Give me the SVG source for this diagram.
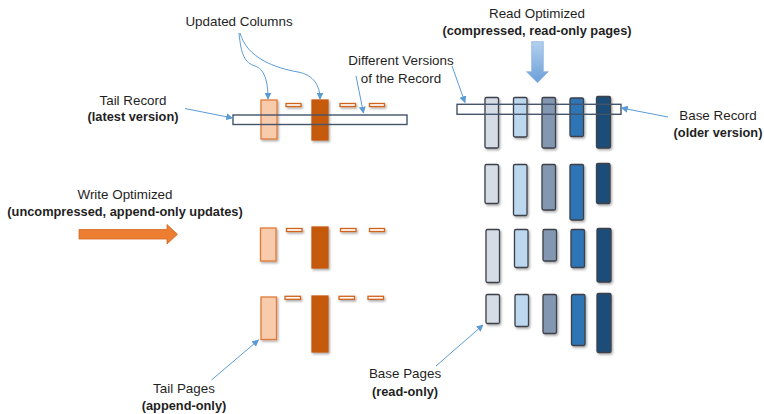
<svg xmlns="http://www.w3.org/2000/svg" width="764" height="414" viewBox="0 0 764 414">
<defs>
<style>
text{font-family:"Liberation Sans",Arial,sans-serif;fill:#1f1f1f}
.r{font-size:13.4px}
.b{font-size:12.8px;font-weight:bold}
.lt{fill:#F8CBAD;stroke:#E07A38;stroke-width:1.3}
.dk{fill:#C55A11;stroke:#C55A11;stroke-width:1.3}
.ds{fill:#fff;stroke:#D2641E;stroke-width:1.3}
.bar{stroke:#3B3F48;stroke-width:1.3}
.c1{fill:#D6DCE5}.c2{fill:#BDD7EE}.c3{fill:#8497B0}.c4{fill:#2E75B6}.c5{fill:#1F4E79}
.rec{fill:none;stroke:#44546A;stroke-width:1.4}
.con{fill:none;stroke:#5B9BD5;stroke-width:1}
</style>
<filter id="sh" x="-30%" y="-30%" width="160%" height="160%">
<feDropShadow dx="1.2" dy="1.5" stdDeviation="0.9" flood-color="#000" flood-opacity="0.35"/>
</filter>
<marker id="ah" viewBox="0 0 10 10" refX="9" refY="5" markerWidth="7" markerHeight="7" markerUnits="userSpaceOnUse" orient="auto">
<path d="M0,0 L10,5 L0,10 z" fill="#5B9BD5"/>
</marker>
<linearGradient id="bg" x1="0" y1="0" x2="0" y2="1">
<stop offset="0" stop-color="#B4D0EE"/>
<stop offset="1" stop-color="#6A9FD8"/>
</linearGradient>
</defs>

<g id="labels">
<text class="r" x="239" y="26" text-anchor="middle">Updated Columns</text>
<text class="r" x="133" y="105" text-anchor="middle">Tail Record</text>
<text class="b" x="133" y="121" text-anchor="middle">(latest version)</text>
<text class="r" x="401" y="65" text-anchor="middle">Different Versions</text>
<text class="r" x="401" y="83" text-anchor="middle">of the Record</text>
<text class="r" x="537" y="18" text-anchor="middle">Read Optimized</text>
<text class="b" x="537" y="35" text-anchor="middle">(compressed, read-only pages)</text>
<text class="r" x="718" y="120" text-anchor="middle">Base Record</text>
<text class="b" x="718" y="137" text-anchor="middle">(older version)</text>
<text class="r" x="125" y="199" text-anchor="middle">Write Optimized</text>
<text class="b" x="125" y="216" text-anchor="middle">(uncompressed, append-only updates)</text>
<text class="r" x="184" y="393" text-anchor="middle">Tail Pages</text>
<text class="b" x="184" y="410" text-anchor="middle">(append-only)</text>
<text class="r" x="405" y="378" text-anchor="middle">Base Pages</text>
<text class="b" x="405" y="396" text-anchor="middle">(read-only)</text>
</g>

<g id="write-arrow">
<polygon points="79,229.5 167,229.5 167,224.5 177.5,234.3 167,244 167,239 79,239" fill="#ED7D31" stroke="#D06A25" stroke-width="0.8"/>
</g>
<g id="read-arrow">
<polygon points="531.7,41.7 543.3,41.7 543.3,71.7 548.3,71.7 537.5,82.7 526.5,71.7 531.7,71.7" fill="url(#bg)" stroke="#8FB4E0" stroke-width="0.8"/>
</g>

<g id="tail-pages" filter="url(#sh)">
<g id="tail-row1">
<rect class="lt" x="261" y="100" width="16" height="39"/>
<rect class="ds" x="286" y="103.5" width="15" height="3"/>
<rect class="dk" x="312" y="100" width="16" height="40"/>
<rect class="ds" x="340" y="103.5" width="15.5" height="3"/>
<rect class="ds" x="369.5" y="103.5" width="15" height="3"/>
</g>
<g id="tail-row2">
<rect class="lt" x="260.5" y="228" width="15.5" height="33"/>
<rect class="ds" x="286.5" y="228.5" width="15.5" height="3"/>
<rect class="dk" x="312" y="227" width="16" height="41"/>
<rect class="ds" x="340.5" y="228.5" width="15.5" height="3"/>
<rect class="ds" x="369.5" y="228.5" width="15" height="3"/>
</g>
<g id="tail-row3">
<rect class="lt" x="261" y="297" width="15.5" height="42.5"/>
<rect class="ds" x="285" y="296.3" width="15.5" height="3"/>
<rect class="dk" x="312" y="296" width="16" height="56"/>
<rect class="ds" x="339" y="296.3" width="15.5" height="3"/>
<rect class="ds" x="368" y="296.3" width="15.5" height="3"/>
</g>
</g>

<g id="base-pages" filter="url(#sh)">
<g id="base-row1">
<rect class="bar c1" x="485" y="97.5" width="13.5" height="50.5" rx="1.5"/>
<rect class="bar c2" x="513.5" y="97.5" width="13.5" height="39.5" rx="1.5"/>
<rect class="bar c3" x="542" y="97.5" width="13.5" height="50.5" rx="1.5"/>
<rect class="bar c4" x="570" y="98" width="13.5" height="38.5" rx="1.5"/>
<rect class="bar c5" x="596.5" y="96.5" width="14" height="51.5" rx="1.5"/>
</g>
<g id="base-row2">
<rect class="bar c1" x="485" y="164.5" width="13.5" height="39" rx="1.5"/>
<rect class="bar c2" x="513.5" y="164.5" width="13.5" height="51" rx="1.5"/>
<rect class="bar c3" x="542" y="164.5" width="13.5" height="45.5" rx="1.5"/>
<rect class="bar c4" x="570" y="164.5" width="13.5" height="55.5" rx="1.5"/>
<rect class="bar c5" x="596.5" y="163.5" width="13.5" height="40" rx="1.5"/>
</g>
<g id="base-row3">
<rect class="bar c1" x="486" y="229.5" width="13.5" height="53" rx="1.5"/>
<rect class="bar c2" x="514.5" y="229.5" width="13.5" height="38" rx="1.5"/>
<rect class="bar c3" x="543" y="229.5" width="13.5" height="31.5" rx="1.5"/>
<rect class="bar c4" x="571" y="229.5" width="13.5" height="38" rx="1.5"/>
<rect class="bar c5" x="597" y="228.5" width="14" height="53.5" rx="1.5"/>
</g>
<g id="base-row4">
<rect class="bar c1" x="486" y="294.5" width="13.5" height="29" rx="1.5"/>
<rect class="bar c2" x="515" y="294.5" width="13.5" height="32" rx="1.5"/>
<rect class="bar c3" x="543" y="294.5" width="13.5" height="39" rx="1.5"/>
<rect class="bar c4" x="571.5" y="294.5" width="13.5" height="51" rx="1.5"/>
<rect class="bar c5" x="597" y="293.5" width="14" height="59" rx="1.5"/>
</g>
</g>

<g id="tail-record">
<rect class="rec" x="233" y="115" width="174" height="9.5"/>
</g>
<g id="base-record">
<rect class="rec" x="457" y="104.3" width="164" height="10"/>
</g>

<g id="connectors">
<path class="con" d="M239,33 C241,55 245,63 255,66 C264,69 268,80 268,99" marker-end="url(#ah)"/>
<path class="con" d="M240,33 C247,58 275,68 298,72 C314,75 320,86 320,99" marker-end="url(#ah)"/>
<path class="con" d="M185,108.5 L232.5,118" marker-end="url(#ah)"/>
<path class="con" d="M356,76 L363.5,113" marker-end="url(#ah)"/>
<path class="con" d="M452,66 L465,102.5" marker-end="url(#ah)"/>
<path class="con" d="M668,117 L621.5,108" marker-end="url(#ah)"/>
<path class="con" d="M211.5,380 L258.5,340" marker-end="url(#ah)"/>
<path class="con" d="M436,366 L483,325" marker-end="url(#ah)"/>
</g>
</svg>
